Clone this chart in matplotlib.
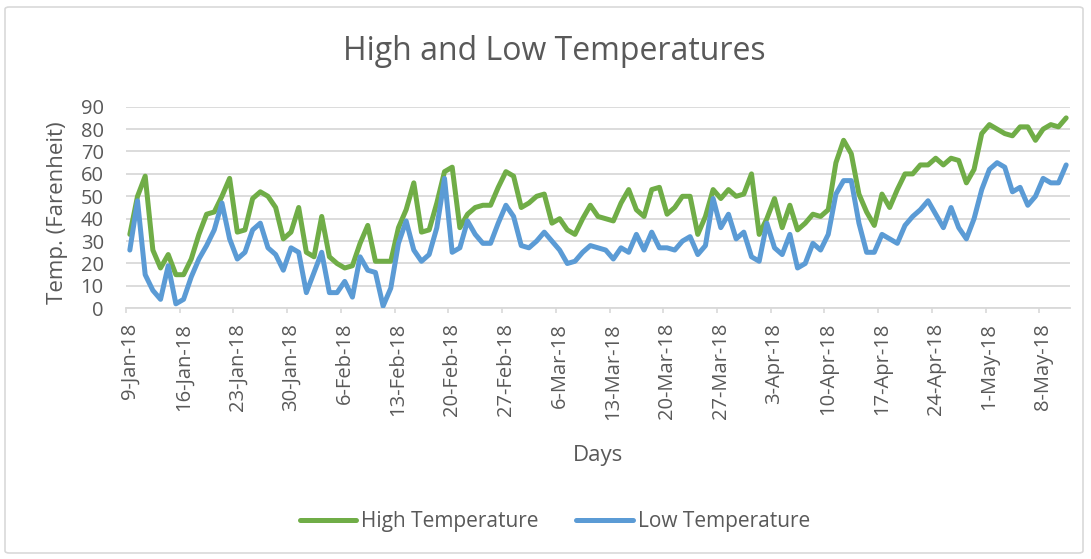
import numpy as np
import pandas as pd
import matplotlib
matplotlib.use("Agg")
import matplotlib.pyplot as plt
from matplotlib.patches import FancyBboxPatch

# 数据：2018-01-09 起的每日最高/最低温度
start_date = "2018-01-09"
high_temp = [33, 50, 59, 26, 18, 24, 15, 15, 22, 33, 42, 43, 50, 58, 34, 35, 49, 52, 50, 45,
             31, 34, 45, 25, 23, 41, 23, 20, 18, 19, 29, 37, 21, 21, 21, 36, 44, 56, 34, 35,
             47, 61, 63, 36, 42, 45, 46, 46, 54, 61, 59, 45, 47, 50, 51, 38, 40, 35, 33, 40,
             46, 41, 40, 39, 47, 53, 44, 41, 53, 54, 42, 45, 50, 50, 33, 41, 53, 49, 53, 50,
             51, 60, 33, 40, 49, 36, 46, 35, 38, 42, 41, 44, 65, 75, 69, 51, 43, 37, 51, 45,
             53, 60, 60, 64, 64, 67, 64, 67, 66, 56, 62, 78, 82, 80, 78, 77, 81, 81, 75, 80,
             82, 81, 85]
low_temp = [26, 48, 15, 8, 4, 19, 2, 4, 14, 22, 28, 35, 47, 31, 22, 25, 35, 38, 27, 24,
            17, 27, 25, 7, 16, 25, 7, 7, 12, 5, 23, 17, 16, 1, 9, 29, 39, 26, 21, 24,
            36, 58, 25, 27, 39, 33, 29, 29, 38, 46, 41, 28, 27, 30, 34, 30, 26, 20, 21, 25,
            28, 27, 26, 22, 27, 25, 33, 26, 34, 27, 27, 26, 30, 32, 24, 28, 49, 36, 42, 31,
            34, 23, 21, 38, 27, 24, 33, 18, 20, 29, 26, 33, 51, 57, 57, 38, 25, 25, 33, 31,
            29, 37, 41, 44, 48, 42, 36, 45, 36, 31, 40, 53, 62, 65, 63, 52, 54, 46, 50, 58,
            56, 56, 64]
tick_labels = ["9-Jan-18", "16-Jan-18", "23-Jan-18", "30-Jan-18", "6-Feb-18", "13-Feb-18",
               "20-Feb-18", "27-Feb-18", "6-Mar-18", "13-Mar-18", "20-Mar-18", "27-Mar-18",
               "3-Apr-18", "10-Apr-18", "17-Apr-18", "24-Apr-18", "1-May-18", "8-May-18"]
y_ticks = [0, 10, 20, 30, 40, 50, 60, 70, 80, 90]

dates = pd.date_range(start_date, periods=len(high_temp), freq="D")
x = np.arange(len(dates))

plt.rcParams["font.family"] = ["Open Sans", "DejaVu Sans"]
text_color = "#595959"
grid_color = "#D9D9D9"

W, H = 1091, 559
fig = plt.figure(figsize=(W / 100, H / 100), dpi=100)

# 外框
fig.patches.append(FancyBboxPatch((5 / W, 6 / H), 1078 / W, 546 / H,
                                  boxstyle="round,pad=0,rounding_size=0.004",
                                  transform=fig.transFigure, facecolor="white",
                                  edgecolor=grid_color, linewidth=1.2, zorder=-5))

ax = fig.add_axes([126 / W, 1 - 308.3 / H, (1070 - 126) / W, (308.3 - 106.7) / H])
ax.set_facecolor("none")

ax.plot(x, high_temp, color="#70AD47", lw=3.6, solid_capstyle="round",
        solid_joinstyle="round", label="High Temperature", zorder=3)
ax.plot(x, low_temp, color="#5B9BD5", lw=3.6, solid_capstyle="round",
        solid_joinstyle="round", label="Low Temperature", zorder=3)

ax.set_xlim(-0.5, len(x) - 0.5)
ax.set_ylim(0, 90)
ax.set_yticks(y_ticks)
ax.yaxis.grid(True, color=grid_color, lw=1.3)
ax.set_axisbelow(True)

label_pos = np.arange(0, len(x), 7)[:len(tick_labels)]
ax.set_xticks(label_pos)
ax.set_xticklabels(tick_labels, rotation=90, ha="center", va="top")
ax.set_xticks(label_pos - 0.5, minor=True)
ax.tick_params(axis="x", which="major", length=0, pad=10.5, labelsize=14.5, labelcolor=text_color)
ax.tick_params(axis="x", which="minor", length=3.6, width=1.2, color=grid_color)
ax.tick_params(axis="y", length=0, pad=16, labelsize=14.5, labelcolor=text_color)

for s in ["top", "right", "left"]:
    ax.spines[s].set_visible(False)
ax.spines["bottom"].set_color(grid_color)
ax.spines["bottom"].set_linewidth(1.3)

fig.text(554 / W, 1 - 52 / H, "High and Low Temperatures", ha="center", va="center",
         fontsize=23, color=text_color)
fig.text(57 / W, 1 - 213 / H, "Temp. (Farenheit)", ha="center", va="center",
         rotation=90, fontsize=16, color=text_color)
fig.text(598 / W, 1 - 456 / H, "Days", ha="center", va="center",
         fontsize=16, color=text_color)

fig.legend(loc="center", bbox_to_anchor=(555 / W, 1 - 522 / H), ncol=2, frameon=False,
           fontsize=15, handlelength=2.7, handletextpad=0.25, columnspacing=1.8,
           labelcolor=text_color)

fig.savefig("out.png", dpi=100)
